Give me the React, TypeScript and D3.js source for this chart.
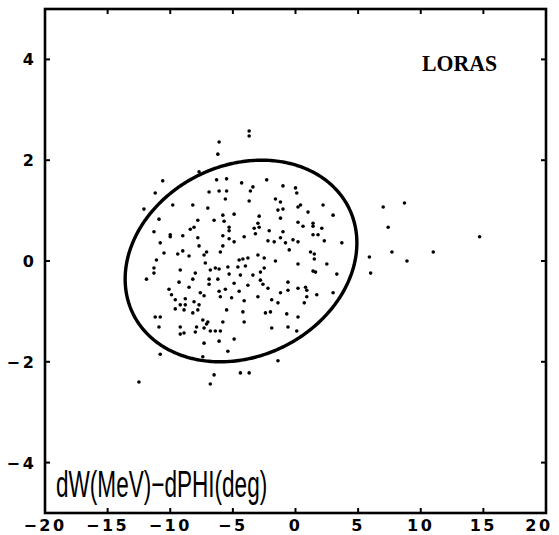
import React from "react";
import * as d3 from "d3";

// Axis domains and ticks
const xDomain: [number, number] = [-20, 20];
const yDomain: [number, number] = [-5, 5];
const xTicks = [-20, -15, -10, -5, 0, 5, 10, 15, 20];
const yTicks = [-4, -2, 0, 2, 4];

// Scatter points (dW, dPHI)
const pointsX = [
  -3.7, -3.7, -6.1, -6.2, -7.7, -10.6, -11.2, -12.1, -10.9, -11.3, -10.8, -11.9, -11.3, -11.3, -11.2, -10.8, -10.9, -10.8, -11.1,
  -6.3, -5.5, -4.3, -3.4, -2.3, -1.0, 0, -6.9, -6.1, -5.5, -3.6, 0.1, -5.6, -3.7, -1.6, -1.2, -9.8, -8.2, -7.0, -1.4, -1.0,
  -5.8, -4.9, -2.9, -1.2, -7.8, -6.5, -5.7, -3.0, 0.2, -8.4, -8.1, -5.3, -3.3, -2.9, -10.0, -9.0, -5.3, -2.1, -1.0, -3.2,
  -7.8, -5.8, -5.3, -4.1, -2.2, -1.7, -1.2, -0.8, -0.2, -10.0, -7.7, -5.8, -4.9, -9.0, -10.5, -9.4, -8.5, -7.1, -7.3, -6.0,
  -4.5, -4.2, -3.8, -3.0, -2.5, -1.6, -0.5, -7.2, -6.4, -5.4, -4.6, -4.0, -2.5, -9.2, -8.0, -6.8, -6.1, -5.3, -4.4, -3.4,
  -2.8, 0.2, -8.2, -9.3, -6.9, -6.2, -4.9, -3.8, -2.8, -6.9, -2.2, -2.6, -10.1, -8.5, -6.1, -5.6, -4.5, -1.2, -0.6, -9.9,
  -7.6, -7.3, -9.6, -8.8, -8.1, -6.0, -5.1, -4.1, -3.0, -1.9, -1.4, -8.8, -9.2, -7.7, -9.6, -8.9, -8.2, -7.8, -5.5, -4.2,
  -2.4, -2.0, -0.7, 0.2, -7.4, -7.0, -7.1, -5.8, -4.1, -9.2, -7.9, -7.3, -6.8, -6.4, -6.0, -8.0, -9.2, -8.9, -1.9, -0.6,
  0.1, -7.3, -6.1, -4.9, -5.4, -7.4, -1.4,
  0.4, 0.2, 2.2, 1.0, 3.0, 0.6, 1.4, 1.4, 2.1, 1.4, 1.8, 0.2, 2.3, 3.7, 1.2, 1.5, 1.5, 2.5, 1.4, 1.6, 3.3, -0.6, 0.2, 0.8,
  0.9, 0.9, 1.7, 3.0, 0.7,
  7.0, 8.7, 7.4, 5.9, 7.7, 8.9, 6.0, 11.0, 14.7,
  -12.5, -6.5, -6.8, -4.4, -3.7,
];
const pointsY = [
  2.58, 2.48, 2.36, 2.12, 1.77, 1.59, 1.35, 1.03, 0.83, 0.58, 0.36, -0.36, -0.24, -0.14, -1.11, -1.11, -1.31, -1.85, 0.02,
  1.61, 1.63, 1.55, 1.47, 1.61, 1.49, 1.45, 1.37, 1.39, 1.39, 1.39, 1.35, 1.23, 1.19, 1.23, 1.17, 1.11, 1.11, 1.05, 1.01, 1.03,
  0.91, 0.93, 0.89, 0.85, 0.81, 0.81, 0.79, 0.75, 0.77, 0.63, 0.67, 0.67, 0.65, 0.67, 0.52, 0.5, 0.6, 0.6, 0.58, 0.54,
  0.46, 0.5, 0.44, 0.48, 0.4, 0.38, 0.46, 0.36, 0.42, 0.48, 0.3, 0.3, 0.38, 0.2, 0.16, 0.14, 0.1, 0.18, 0.12, 0.18,
  0.02, 0.04, 0.06, 0.12, 0.06, 0, 0.22, -0.04, -0.14, -0.12, -0.12, -0.1, -0.14, -0.18, -0.24, -0.18, -0.16, -0.26, -0.28, -0.28,
  -0.22, -0.06, -0.36, -0.42, -0.36, -0.36, -0.44, -0.48, -0.38, -0.46, -0.54, -0.46, -0.56, -0.52, -0.6, -0.56, -0.6, -0.63, -0.58, -0.67,
  -0.63, -0.69, -0.77, -0.75, -0.81, -0.71, -0.73, -0.79, -0.71, -0.77, -0.83, -0.87, -0.87, -0.87, -0.95, -0.97, -1.03, -0.97, -0.97, -1.01,
  -1.03, -1.01, -1.05, -1.11, -1.17, -1.21, -1.25, -1.21, -1.21, -1.31, -1.31, -1.33, -1.39, -1.39, -1.39, -1.41, -1.45, -1.43, -1.33, -1.31,
  -1.39, -1.63, -1.59, -1.55, -1.79, -1.9, -1.98,
  1.11, 1.07, 1.11, 0.97, 0.91, 0.69, 0.75, 0.69, 0.65, 0.52, 0.52, 0.38, 0.4, 0.36, 0.18, 0.14, 0.04, -0.06, -0.2, -0.22, -0.26, -0.42, -0.54, -0.52,
  -0.58, -0.71, -0.67, -0.63, -0.83,
  1.07, 1.15, 0.67, 0.08, 0.18, 0, -0.24, 0.18, 0.48,
  -2.4, -2.26, -2.44, -2.22, -2.22,
];

// Fitted ellipse parameters (data units)
const ellipseCenter = [-4.35, 0];
const ellipseRadii = [9.25, 2.0];
const ellipsePhase = 0.18;

const W = 559;
const H = 535;
const M = { left: 45, right: 546, top: 9, bottom: 513 };

export default function App() {
  const x = d3.scaleLinear().domain(xDomain).range([M.left, M.right]);
  const y = d3.scaleLinear().domain(yDomain).range([M.bottom, M.top]);

  const ts = d3.range(0, 2 * Math.PI + 0.001, Math.PI / 180);
  const ellipsePts: [number, number][] = ts.map((t) => [
    ellipseCenter[0] + ellipseRadii[0] * Math.cos(t),
    ellipseCenter[1] + ellipseRadii[1] * Math.sin(t + ellipsePhase),
  ]);
  const linePath = d3
    .line<[number, number]>()
    .x((d) => x(d[0]))
    .y((d) => y(d[1]))
    .curve(d3.curveLinearClosed)(ellipsePts) as string;

  const tickLen = 5;
  const fmt = (v: number) => (v < 0 ? "\u2212" + Math.abs(v) : String(v));
  const labelScale = 0.61;

  return (
    <svg
      width={W}
      height={H}
      style={{ position: "absolute", left: 0, top: 0, background: "#fff" }}
    >
      <rect x={0} y={0} width={W} height={H} fill="#fff" />
      {/* points */}
      {pointsX.map((px, i) => (
        <circle key={i} cx={x(px)} cy={y(pointsY[i])} r={1.8} fill="#000" />
      ))}
      {/* ellipse */}
      <path d={linePath} fill="none" stroke="#000" strokeWidth={3.4} />
      {/* frame */}
      <rect
        x={M.left}
        y={M.top}
        width={M.right - M.left}
        height={M.bottom - M.top}
        fill="none"
        stroke="#000"
        strokeWidth={2.6}
      />
      {/* ticks */}
      {xTicks.slice(1, -1).map((t) => (
        <g key={"xt" + t}>
          <line x1={x(t)} x2={x(t)} y1={M.bottom} y2={M.bottom - tickLen} stroke="#000" strokeWidth={2} />
          <line x1={x(t)} x2={x(t)} y1={M.top} y2={M.top + tickLen} stroke="#000" strokeWidth={2} />
        </g>
      ))}
      {yTicks.map((t) => (
        <g key={"yt" + t}>
          <line x1={M.left} x2={M.left + tickLen} y1={y(t)} y2={y(t)} stroke="#000" strokeWidth={2} />
          <line x1={M.right} x2={M.right - tickLen} y1={y(t)} y2={y(t)} stroke="#000" strokeWidth={2} />
        </g>
      ))}
      {/* x tick labels */}
      {xTicks.map((t) => (
        <text
          key={"xl" + t}
          x={Math.min(x(t), W - 20)}
          y={531}
          textAnchor="middle"
          fontFamily="DejaVu Sans"
          fontWeight="bold"
          fontSize={16}
          letterSpacing={2.5}
        >
          {fmt(t)}
        </text>
      ))}
      {yTicks.map((t) => (
        <text
          key={"yl" + t}
          x={37}
          y={y(t) + 6}
          textAnchor="end"
          fontFamily="DejaVu Sans"
          fontWeight="bold"
          fontSize={16}
          letterSpacing={3}
        >
          {fmt(t)}
        </text>
      ))}
      {/* labels */}
      <text
        x={422}
        y={71}
        fontFamily="Liberation Serif"
        fontWeight="bold"
        fontSize={23}
        textLength={75}
        lengthAdjust="spacingAndGlyphs"
      >
        LORAS
      </text>
      <g transform={`translate(56,497) scale(${labelScale},1)`}>
        <text x={0} y={0} fontFamily="Liberation Sans" fontSize={37}>
          dW(MeV){"\u2212"}dPHI(deg)
        </text>
      </g>
    </svg>
  );
}
